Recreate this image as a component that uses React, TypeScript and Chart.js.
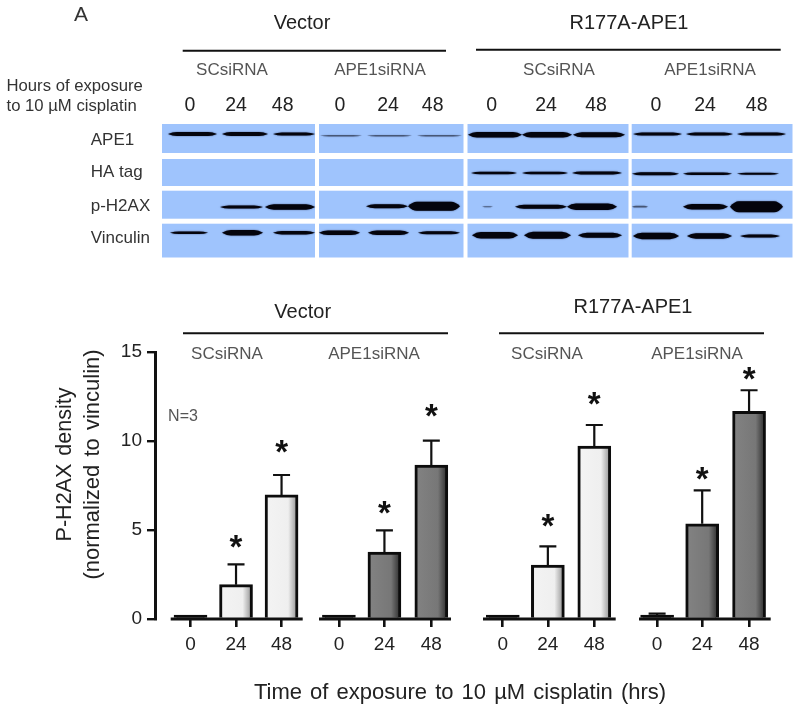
import React, { useEffect, useRef } from "react";
import { Chart, registerables } from "chart.js";

Chart.register(...registerables);

// ---- data ----
const hours = ["0", "24", "48"];
const vectorSC = [0.05, 1.93, 6.97];
const vectorAPE = [0.1, 3.76, 8.65];
const r177SC = [0.05, 3.03, 9.72];
const r177APE = [0.15, 5.35, 11.67];
const vectorSCErr = [0, 1.14, 1.12];
const vectorAPEErr = [0, 1.22, 1.37];
const r177SCErr = [0, 1.05, 1.18];
const r177APEErr = [0.15, 1.88, 1.18];
const vectorSCStar = [null, 4.34, 9.7];
const vectorAPEStar = [null, 6.29, 11.74];
const r177SCStar = [null, 5.56, 12.36];
const r177APEStar = [null, 8.2, 13.82];
const vectorSCSlots = [0.78, 1.78, 2.78];
const vectorAPESlots = [4.04, 5.04, 6.07];
const r177SCSlots = [7.64, 8.63, 9.65];
const r177APESlots = [11.03, 12.02, 13.05];

const blotRows = ["APE1", "HA tag", "p-H2AX", "Vinculin"];
// band thickness for each of the 12 lanes, per blot row
const ape1Bands = [4, 4, 3, 1.6, 1.6, 1.6, 5.5, 5.5, 5, 3, 3, 3];
const haBands = [0, 0, 0, 0, 0, 0, 2.5, 2.5, 2.8, 3, 2.6, 2];
const h2axBands = [0, 3, 5.5, 0, 4, 9, 0.9, 4, 6.5, 1.8, 5.5, 11];
const vinculinBands = [2.6, 5.5, 3.5, 4.5, 4.5, 3, 6.5, 7, 5, 6.5, 5.5, 3];

// ---- layout constants ----
const FONT = '"Liberation Sans", Arial, sans-serif';
const W = 800;
const H = 708;
const blue = "#9fc4fd";
const panelX = [[162, 315], [319, 463.5], [467.5, 628.5], [631.7, 792.5]];
const panelY = [[124, 153], [159, 186], [190.7, 218.7], [223.7, 257.5]];
const rowBandY = [
  [134, 135.7, 134.7, 134],
  [173, 173, 173, 173.7],
  [207, 206.3, 206.7, 206.7],
  [232.7, 232.7, 235.3, 236],
];
const rowLanes = [
  [[168, 217], [222, 268], [273, 315], [320, 362], [367, 412], [417, 462], [468, 522], [522, 572], [573, 625], [633, 682], [686, 733], [737, 786]],
  [[0, 0], [0, 0], [0, 0], [0, 0], [0, 0], [0, 0], [471, 517], [522, 568], [572, 622], [632, 679], [683, 732], [737, 779]],
  [[0, 0], [220, 263], [265, 315], [0, 0], [366, 408], [408, 460], [482, 493], [515, 567], [567, 617], [632, 648], [683, 728], [730, 783]],
  [[170, 208], [222, 263], [273, 315], [319, 360], [368, 409], [418, 460], [472, 518], [524, 571], [578, 622], [633, 679], [687, 732], [740, 780]],
];
const rowBands = [ape1Bands, haBands, h2axBands, vinculinBands];
const rowLabelY = [140.7, 172, 206, 238.7];
const blotHourX = [190, 236, 282.7, 340, 388, 432.7, 491.7, 546, 596, 656, 705, 756.7];

const lightFill = ["#f3f3f3", "#efefef", "#9a9a9a"];
const darkFill = ["#828282", "#777777", "#333333"];

function text(c: CanvasRenderingContext2D, s: string, x: number, y: number, font: string, color: string, align: CanvasTextAlign = "center") {
  c.font = font;
  c.fillStyle = color;
  c.textAlign = align;
  c.textBaseline = "middle";
  c.fillText(s, x, y);
}

function rule(c: CanvasRenderingContext2D, x1: number, x2: number, y: number, w: number) {
  c.strokeStyle = "#111";
  c.lineWidth = w;
  c.beginPath();
  c.moveTo(x1, y);
  c.lineTo(x2, y);
  c.stroke();
}

function band(c: CanvasRenderingContext2D, l: number, r: number, y: number, t: number) {
  const taper = Math.min(9, (r - l) / 4);
  c.globalAlpha = t < 2 ? 0.45 : 1;
  c.fillStyle = "#04040c";
  c.shadowColor = "rgba(10,10,40,0.7)";
  c.shadowBlur = 1.5;
  c.beginPath();
  c.moveTo(l, y);
  c.quadraticCurveTo(l + taper / 2, y - t / 2, l + taper, y - t / 2);
  c.lineTo(r - taper, y - t / 2);
  c.quadraticCurveTo(r - taper / 2, y - t / 2, r, y);
  c.quadraticCurveTo(r - taper / 2, y + t / 2, r - taper, y + t / 2);
  c.lineTo(l + taper, y + t / 2);
  c.quadraticCurveTo(l + taper / 2, y + t / 2, l, y);
  c.closePath();
  c.fill();
  c.shadowBlur = 0;
  c.globalAlpha = 1;
}

const blotPlugin = {
  id: "blot",
  beforeDraw(chart: any) {
    const c: any = chart.ctx;
    c.save();
    text(c, "A", 81, 15.5, `21px ${FONT}`, "#333");
    text(c, "Vector", 302, 23, `20px ${FONT}`, "#222");
    text(c, "R177A-APE1", 629, 23, `20px ${FONT}`, "#222");
    rule(c, 182.7, 446, 50.7, 2);
    rule(c, 476, 780.7, 49.7, 2);
    text(c, "SCsiRNA", 232, 70.7, `17px ${FONT}`, "#555");
    text(c, "APE1siRNA", 380, 70.7, `17px ${FONT}`, "#555");
    text(c, "SCsiRNA", 559, 70.7, `17px ${FONT}`, "#555");
    text(c, "APE1siRNA", 710, 70.7, `17px ${FONT}`, "#555");
    text(c, "Hours of exposure", 6.5, 86, `16.7px ${FONT}`, "#333", "left");
    text(c, "to 10 µM cisplatin", 6.5, 106.7, `16.7px ${FONT}`, "#333", "left");
    blotHourX.forEach((x, i) => text(c, hours[i % 3], x, 105.7, `19.5px ${FONT}`, "#222"));
    blotRows.forEach((r, i) => text(c, r, 90.7, rowLabelY[i], `17px ${FONT}`, "#333", "left"));

    c.fillStyle = blue;
    panelX.forEach(([l, r]) => panelY.forEach(([t, b]) => {
      c.fillStyle = blue;
      c.fillRect(l, t, r - l, b - t);
    }));
    rowBands.forEach((bands, row) => bands.forEach((t, lane) => {
      if (!t) return;
      const [l, r] = rowLanes[row][lane];
      band(c, l, r, rowBandY[row][Math.floor(lane / 3)], t);
    }));

    // lower-panel headers and rotated axis title
    text(c, "Vector", 302.7, 312, `20px ${FONT}`, "#222");
    text(c, "R177A-APE1", 633, 307, `20px ${FONT}`, "#222");
    rule(c, 183, 448, 333.3, 2);
    rule(c, 499, 764, 333.3, 2);
    text(c, "SCsiRNA", 227, 354, `17px ${FONT}`, "#555");
    text(c, "APE1siRNA", 374, 354, `17px ${FONT}`, "#555");
    text(c, "SCsiRNA", 547, 354, `17px ${FONT}`, "#555");
    text(c, "APE1siRNA", 697, 354, `17px ${FONT}`, "#555");
    text(c, "N=3", 183, 416.7, `16px ${FONT}`, "#555");
    c.wordSpacing = "2px";
    c.save();
    c.translate(65, 464.5);
    c.rotate(-Math.PI / 2);
    text(c, "P-H2AX density", 0, 0, `21.5px ${FONT}`, "#222");
    c.restore();
    c.save();
    c.translate(93, 464.5);
    c.rotate(-Math.PI / 2);
    text(c, "(normalized to vinculin)", 0, 0, `22px ${FONT}`, "#222");
    c.restore();
    c.wordSpacing = "0px";
    c.restore();
    // the x-axis title is the only spaced text the scales draw after this
    c.wordSpacing = "2px";
  },
};

const groups = [
  { values: vectorSC, errs: vectorSCErr, stars: vectorSCStar, slots: vectorSCSlots, base: [170.7, 302.7] },
  { values: vectorAPE, errs: vectorAPEErr, stars: vectorAPEStar, slots: vectorAPESlots, base: [319, 451] },
  { values: r177SC, errs: r177SCErr, stars: r177SCStar, slots: r177SCSlots, base: [483, 615.7] },
  { values: r177APE, errs: r177APEErr, stars: r177APEStar, slots: r177APESlots, base: [639, 770.7] },
];

const marksPlugin = {
  id: "marks",
  afterDatasetsDraw(chart: any) {
    const c: CanvasRenderingContext2D = chart.ctx;
    const { x, y } = chart.scales;
    c.save();
    groups.forEach((g) => {
      rule(c, g.base[0], g.base[1], y.getPixelForValue(0), 2.8);
      g.values.forEach((v, i) => {
        const px = x.getPixelForValue(g.slots[i]);
        if (g.errs[i] > 0) {
          const top = y.getPixelForValue(v + g.errs[i]);
          c.strokeStyle = "#111";
          c.lineWidth = 2.2;
          c.beginPath();
          c.moveTo(px, y.getPixelForValue(v));
          c.lineTo(px, top);
          c.moveTo(px - 8.5, top);
          c.lineTo(px + 8.5, top);
          c.stroke();
        }
        const s = g.stars[i];
        if (s != null) {
          c.font = `bold 33px ${FONT}`;
          c.fillStyle = "#111";
          c.textAlign = "center";
          c.textBaseline = "alphabetic";
          const m = c.measureText("*");
          c.fillText("*", px, y.getPixelForValue(s) + (m.actualBoundingBoxAscent - m.actualBoundingBoxDescent) / 2);
        }
      });
    });
    c.restore();
  },
};

const allSlots = groups.flatMap((g) => g.slots);

function barFill(stops: string[], slots: number[], values: number[]) {
  return (ctx: any) => {
    const chart = ctx.chart;
    const sx = chart.scales?.x;
    if (!sx || ctx.dataIndex == null) return stops[0];
    if (values[ctx.dataIndex] < 0.5) return "#0c0c0c";
    const px = sx.getPixelForValue(slots[ctx.dataIndex]);
    if (!Number.isFinite(px)) return stops[0];
    const g = chart.ctx.createLinearGradient(px - 15, 0, px + 15, 0);
    g.addColorStop(0, stops[0]);
    g.addColorStop(0.72, stops[1]);
    g.addColorStop(1, stops[2]);
    return g;
  };
}

export default function App() {
  const ref = useRef<HTMLCanvasElement>(null);
  useEffect(() => {
    const chart = new Chart(ref.current!, {
      type: "bar",
      data: {
        datasets: groups.map((g, k) => ({
          label: ["Vector SCsiRNA", "Vector APE1siRNA", "R177A-APE1 SCsiRNA", "R177A-APE1 APE1siRNA"][k],
          data: g.values.map((v, i) => ({ x: g.slots[i], y: v })),
          backgroundColor: barFill(k % 2 === 0 ? lightFill : darkFill, g.slots, g.values),
          borderColor: "#0c0c0c",
          borderWidth: 3,
          barThickness: 33,
          minBarLength: 4,
          grouped: false,
          clip: false,
        })),
      },
      plugins: [blotPlugin, marksPlugin],
      options: {
        responsive: false,
        animation: false,
        layout: { padding: { left: 0, top: 352, right: 35, bottom: 2 } },
        plugins: { legend: { display: false }, tooltip: { enabled: false }, title: { display: false } },
        scales: {
          x: {
            type: "linear",
            offset: false,
            min: 0,
            max: 13.4,
            afterBuildTicks: (s: any) => {
              s.ticks = allSlots.map((value) => ({ value }));
            },
            afterFit: (s: any) => {
              s.height = 87;
            },
            border: { display: false },
            grid: { offset: false, drawOnChartArea: false, color: "#111", lineWidth: 2.6, tickLength: 8 },
            ticks: {
              autoSkip: false,
              maxRotation: 0,
              padding: 6,
              color: "#222",
              font: { family: FONT, size: 19 },
              callback: (_v: any, i: number) => hours[i % 3],
            },
            title: {
              display: true,
              text: "Time of exposure to 10 µM cisplatin (hrs)",
              color: "#222",
              font: { family: FONT, size: 22 },
              padding: { top: 0, bottom: 0 },
            },
          },
          y: {
            min: 0,
            max: 15,
            afterFit: (s: any) => {
              s.width = 155;
            },
            border: { display: true, color: "#111", width: 3 },
            grid: { drawOnChartArea: false, color: "#111", lineWidth: 2.4, tickLength: 8 },
            ticks: { stepSize: 5, padding: 5, color: "#222", font: { family: FONT, size: 19 } },
          },
        },
      },
    } as any);
    return () => chart.destroy();
  }, []);
  return (
    <div style={{ position: "absolute", left: 0, top: 0, width: W, height: H, background: "#fff" }}>
      <canvas ref={ref} width={W} height={H} style={{ display: "block", filter: "blur(0.4px)" }} />
    </div>
  );
}
